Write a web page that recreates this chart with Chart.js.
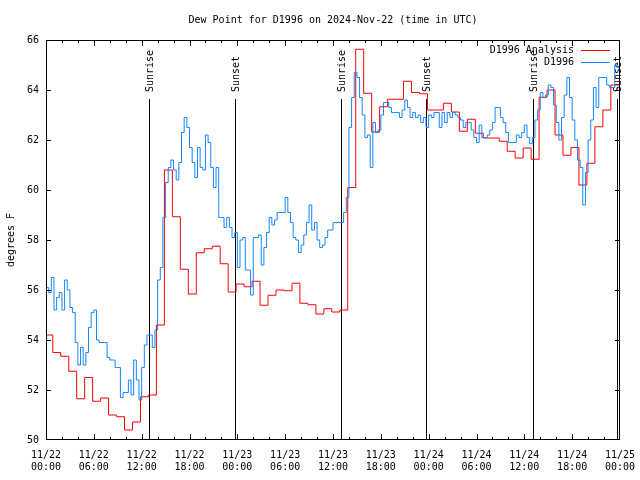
<!DOCTYPE html>
<html lang="en">
<head>
<meta charset="UTF-8">
<title>Dew Point for D1996</title>
<script src="https://cdn.jsdelivr.net/npm/chart.js@4"></script>
<style>
  html, body { margin: 0; padding: 0; background: #fff; }
  #chart { display: block; }
</style>
</head>
<body>
<canvas id="chart" width="640" height="480"></canvas>
<script>
  const FONT = '"DejaVu Sans Mono", "Liberation Mono", monospace';

  // Texts
  const titleText = 'Dew Point for D1996 on 2024-Nov-22 (time in UTC)';
  const yTitle = 'degrees F';
  const dayLabels = ['11/22', '11/23', '11/24', '11/25'];
  const seriesNames = ['D1996 Analysis', 'D1996'];

  // Analysis (hourly, each value starts ~10 min before the hour)
  const analysisOffset = -0.15;
  const analysisValues = [
    54.2, 53.5, 53.35, 52.75, 51.65, 52.5, 51.55, 51.68, 51.0, 50.93,
    50.4, 50.72, 51.73, 51.8, 54.6, 60.8, 58.93, 56.83, 55.84, 57.49,
    57.65, 57.75, 57.05, 55.92, 56.24, 56.13, 56.35, 55.39, 55.79, 56.0,
    55.97, 56.27, 55.47, 55.41, 55.04, 55.25, 55.12, 55.2, 60.1, 65.63,
    63.87, 62.32, 63.33, 63.63, 63.63, 64.35, 63.9, 63.85, 63.2, 63.2,
    63.47, 63.12, 62.35, 62.83, 62.27, 62.08, 62.08, 61.95, 61.55, 61.28,
    61.68, 61.23, 63.71, 64.0, 62.2, 61.39, 61.7, 60.2, 61.07, 62.53,
    63.2, 64.2, 64.2
  ];

  // Observations (every 20 minutes from 11/22 00:00)
  const obsStep = 1 / 3;
  const obsValues = [
    56.1, 55.9, 56.5, 55.2, 55.7, 55.9, 55.2, 56.4, 56.0, 55.3,
    55.1, 53.9, 53.0, 53.7, 53.0, 53.5, 54.5, 55.1, 55.2, 54.0,
    53.9, 53.9, 53.9, 53.3, 53.2, 53.2, 52.9, 52.9, 51.7, 51.9,
    51.9, 52.4, 51.8, 53.2, 52.4, 51.6, 52.9, 53.8, 54.2, 54.2,
    53.7, 54.4, 56.4, 56.9, 58.9, 60.3, 60.9, 61.2, 60.8, 60.4,
    61.1, 62.3, 62.9, 62.5, 61.7, 61.1, 60.5, 61.7, 60.9, 60.8,
    62.2, 61.9, 60.9, 60.1, 60.9, 58.9, 58.9, 58.5, 58.9, 58.5,
    58.1, 58.3, 56.9, 58.0, 58.1, 56.8, 56.8, 55.8, 58.1, 58.1,
    58.2, 57.0, 57.7, 58.3, 58.9, 58.6, 58.8, 59.1, 59.1, 59.1,
    59.7, 59.1, 58.7, 58.1, 58.0, 57.5, 57.8, 58.2, 58.7, 59.4,
    58.4, 58.7, 58.0, 57.7, 57.8, 58.1, 58.4, 58.4, 58.7, 58.7,
    58.7, 58.7, 59.1, 59.7, 62.5, 63.7, 64.7, 64.5, 63.7, 63.0,
    62.1, 62.2, 60.9, 62.7, 62.3, 62.4, 63.0, 63.5, 63.5, 63.3,
    63.1, 63.1, 63.1, 62.9, 63.2, 63.6, 63.3, 62.9, 63.1, 62.9,
    63.0, 62.7, 62.9, 62.5, 63.0, 62.9, 63.1, 63.1, 62.5, 63.1,
    62.7, 63.1, 62.9, 63.1, 63.0, 62.9, 62.8, 62.5, 62.7, 62.7,
    62.4, 62.1, 61.9, 62.6, 62.1, 62.1, 62.2, 62.4, 62.7, 63.3,
    63.3, 62.9, 62.7, 62.3, 61.9, 61.9, 61.9, 62.2, 62.1, 62.3,
    62.6, 62.1, 61.85, 62.1, 62.8, 63.2, 63.9, 63.7, 63.8, 64.2,
    64.1, 63.4, 62.7, 62.0, 62.9, 63.8, 64.5, 63.7, 62.8, 62.0,
    61.2, 60.9, 59.4, 60.7, 62.0, 62.8, 64.1, 63.3, 64.5, 64.5,
    64.5, 64.2, 64.1, 64.1, 65.0, 64.9, 64.3
  ];

  // Sunrise / sunset (hours since 11/22 00:00 UTC)
  const sunHours = [12.96, 23.65, 37.04, 47.7, 61.13, 71.66];
  const sunLabels = ['Sunrise', 'Sunset', 'Sunrise', 'Sunset', 'Sunrise', 'Sunset'];

  const analysisData = analysisValues.map((v, i) => ({ x: i + analysisOffset, y: v }));
  const obsData = obsValues.map((v, i) => ({ x: i * obsStep, y: v }));

  const colors = ['#ff0000', '#1586ff'];

  // gnuplot-like decorations: border, inward ticks, sun lines, legend, titles
  const decor = {
    id: 'decor',
    beforeDatasetsDraw(chart) {
      const { ctx, chartArea: a, scales: { x } } = chart;
      ctx.save();
      ctx.strokeStyle = '#000';
      ctx.lineWidth = 1;
      ctx.fillStyle = '#000';
      ctx.font = '10px ' + FONT;
      sunHours.forEach((h, i) => {
        const px = Math.round(x.getPixelForValue(h)) + 0.5;
        ctx.beginPath();
        ctx.moveTo(px, a.top + 59);
        ctx.lineTo(px, a.bottom);
        ctx.stroke();
        ctx.save();
        ctx.translate(px + 1, a.top + 52);
        ctx.rotate(-Math.PI / 2);
        ctx.textAlign = 'left';
        ctx.textBaseline = 'middle';
        ctx.fillText(sunLabels[i], 0, 0);
        ctx.restore();
      });
      ctx.restore();
    },
    afterDraw(chart) {
      const { ctx, chartArea: a, scales: { x, y } } = chart;
      ctx.save();
      ctx.strokeStyle = '#000';
      ctx.lineWidth = 1;
      ctx.strokeRect(a.left + 0.5, a.top + 0.5, a.right - a.left - 1, a.bottom - a.top - 1);

      ctx.beginPath();
      for (let h = 2; h < 72; h += 2) {
        const px = Math.round(x.getPixelForValue(h)) + 0.5;
        const len = h % 6 === 0 ? 6 : 3;
        ctx.moveTo(px, a.bottom); ctx.lineTo(px, a.bottom - len);
        ctx.moveTo(px, a.top); ctx.lineTo(px, a.top + len);
      }
      for (let v = 52; v < 66; v += 2) {
        const py = Math.round(y.getPixelForValue(v)) + 0.5;
        ctx.moveTo(a.left, py); ctx.lineTo(a.left + 5, py);
        ctx.moveTo(a.right, py); ctx.lineTo(a.right - 5, py);
      }
      ctx.stroke();

      ctx.fillStyle = '#000';
      ctx.font = '10px ' + FONT;
      ctx.textAlign = 'center';
      ctx.textBaseline = 'middle';
      ctx.fillText(titleText, (a.left + a.right) / 2, 20);

      ctx.save();
      ctx.translate(11, (a.top + a.bottom) / 2);
      ctx.rotate(-Math.PI / 2);
      ctx.fillText(yTitle, 0, 0);
      ctx.restore();

      // legend
      ctx.textAlign = 'right';
      seriesNames.forEach((name, i) => {
        const ly = a.top + 10 + i * 12;
        ctx.fillStyle = '#000';
        ctx.fillText(name, a.right - 46, ly);
        ctx.strokeStyle = colors[i];
        ctx.beginPath();
        ctx.moveTo(a.right - 39, ly + 0.5);
        ctx.lineTo(a.right - 10, ly + 0.5);
        ctx.stroke();
      });
      ctx.restore();
    }
  };

  new Chart(document.getElementById('chart'), {
    type: 'line',
    data: {
      datasets: [
        {
          label: seriesNames[0],
          data: analysisData,
          borderColor: colors[0],
          borderWidth: 1,
          pointRadius: 0,
          stepped: true,
          order: 2
        },
        {
          label: seriesNames[1],
          data: obsData,
          borderColor: colors[1],
          borderWidth: 1,
          pointRadius: 0,
          stepped: true,
          order: 1
        }
      ]
    },
    options: {
      responsive: false,
      animation: false,
      devicePixelRatio: 1,
      layout: { padding: { top: 40, right: 20, left: 0, bottom: 0 } },
      plugins: {
        legend: { display: false },
        tooltip: { enabled: false }
      },
      scales: {
        x: {
          type: 'linear',
          min: 0,
          max: 72,
          grid: { display: false },
          border: { display: false },
          afterFit: (s) => { s.height = 40; s.paddingLeft = 0; s.paddingRight = 0; },
          ticks: {
            stepSize: 6,
            autoSkip: false,
            maxRotation: 0,
            padding: 1,
            color: '#000',
            font: { family: FONT, size: 10 },
            callback: (v) => {
              const hh = String(v % 24).padStart(2, '0');
              return [dayLabels[Math.floor(v / 24)], hh + ':00'];
            }
          }
        },
        y: {
          min: 50,
          max: 66,
          grid: { display: false, drawTicks: false, tickLength: 0 },
          border: { display: false },
          afterFit: (s) => { s.width = 46; },
          ticks: {
            stepSize: 2,
            padding: 7,
            crossAlign: 'near',
            color: '#000',
            font: { family: FONT, size: 10 }
          }
        }
      }
    },
    plugins: [decor]
  });
</script>
</body>
</html>
